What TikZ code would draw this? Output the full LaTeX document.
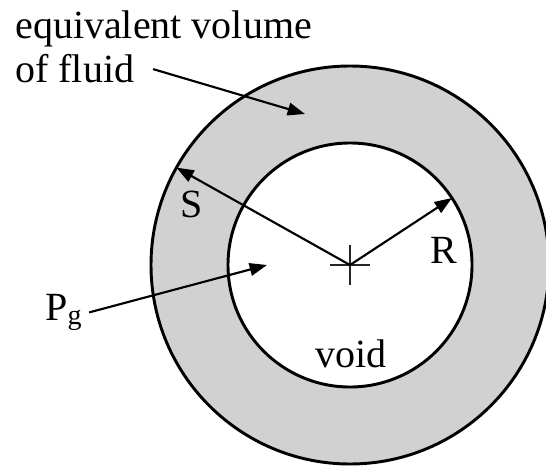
\documentclass[tikz,border=0pt]{standalone}
\usepackage{fontspec}
\setmainfont{Liberation Serif}
\usetikzlibrary{arrows.meta}

\begin{document}
\begin{tikzpicture}[x=0.75pt, y=0.75pt, line join=bevel]

	\pgfmathsetmacro{\rin}{122}
	\pgfmathsetmacro{\rout}{199}

	\tikzset{
	  ring_edge/.style    = {line width=2.2pt, draw=black},
	  cross_mark/.style   = {line width=1pt, draw=black!85},
	  pointer/.style      = {line width=1.6pt, -{Triangle[length=13pt,width=9.5pt]}},
	  label_text/.style   = {inner sep=0pt, font=\fontsize{30}{34}\selectfont}
	}

	\useasboundingbox (0,0) rectangle (546,465);

	% ring of fluid round the void
	\coordinate (centre) at (350,200);
	\fill[black!18] (centre) circle[radius=\rout];
	\fill[white]    (centre) circle[radius=\rin];
	\draw[ring_edge] (centre) circle[radius=\rout];
	\draw[ring_edge] (centre) circle[radius=\rin];

	\draw[cross_mark] (centre) ++(-20,0) -- ++(40,0);
	\draw[cross_mark] (centre) ++(0,-20) -- ++(0,40);

	% radii
	\draw[pointer] (centre) -- ++(150.7:\rout) coordinate (sTip);
	\draw[pointer] (centre) -- ++(33.3:\rin)   coordinate (rTip);

	% labels
	\node[label_text, anchor=base west] (equiv) at (15,426) {equivalent volume};
	\node[label_text, anchor=base west] (fluid) at (15,382) {of fluid};
	\node[label_text] (sLabel) at (192,261) {S};
	\node[label_text] (rLabel) at (444,215) {R};
	\node[label_text, anchor=base] (voidLabel) at (351,98) {void};
	\node[label_text, anchor=base west] (pg) at (45,145) {P\textsubscript{g}};

	\coordinate (fluidTip) at (305,351);
	\coordinate (pgTip)    at (267,200);

	\draw[pointer] ([xshift=14pt]fluid.east) -- (fluidTip);
	\draw[pointer] ([xshift=5pt]pg.east)     -- (pgTip);

\end{tikzpicture}
\end{document}
